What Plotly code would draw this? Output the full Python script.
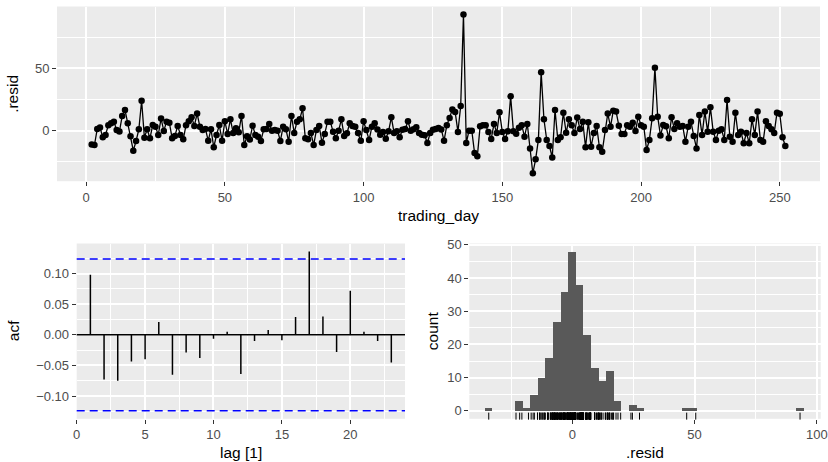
import plotly.graph_objects as go

W, H = 828, 462

# ---------------- data ----------------
trading_day = list(range(2, 253))
resid = [
    -11.0, -11.5, 1.4, 2.5, -5.3, -3.4, 4.4, 5.9, 7.2, 0.6,          # 2-11
    -0.7, 11.8, 16.6, 5.9, -4.4, -16.0, -8.3, 1.1, 24.0, -5.6,       # 12-21
    1.1, -6.1, 4.5, 3.2, -3.4, 9.7, -0.2, 7.2, 6.4, -6.1,            # 22-31
    -4.2, 3.8, -3.4, -6.9, 4.4, 7.5, 10.7, 3.8, 13.7, 3.2,           # 32-41
    0.6, 1.4, -8.0, 1.1, -13.3, -3.4, 4.5, -8.0, 7.5, -2.6,          # 42-51
    9.1, -1.8, 1.9, -1.2, 11.8, -11.5, -4.4, -7.0, 4.0, -3.4,        # 52-61
    -4.8, -8.2, 1.1, 1.3, 5.4, 0.0, 0.6, 0.0, -8.3, 3.2,             # 62-71
    1.2, -8.8, 11.8, -1.8, 7.2, 9.1, 17.9, -6.1, -6.9, -1.8,         # 72-81
    -11.5, 0.6, 3.8, -9.6, -2.6, 7.2, 7.2, -0.8, -6.1, 0.0,          # 82-91
    9.1, -4.2, -2.1, 5.9, 3.8, 3.2, -1.8, -8.1, 7.5, 0.6,            # 92-101
    -7.4, 3.2, 6.0, 1.0, -3.2, -1.0, -6.4, -0.5, 10.7, -1.8,         # 102-111
    -0.5, -5.3, 0.8, 1.3, 7.5, 0.0, 1.2, 2.7, -1.8, -3.2,            # 112-121
    -3.7, -9.9, -1.8, 0.8, 1.3, 2.2, 1.0, -8.0, 4.3, 10.2,           # 122-131
    16.9, 15.0, -1.0, 19.8, 93.15, -9.9, 0.0, 0.0, -17.9, -20.6,     # 132-141
    3.5, 4.3, 4.3, -1.0, -6.6, 5.4, -1.8, 14.7, -1.0, -6.6,          # 142-151
    -0.5, 27.5, -0.5, -2.5, 2.3, 4.4, -4.8, 5.4, -14.2, -34.15,      # 152-161
    -23.0, -7.4, 46.8, 9.1, -7.4, -12.3, -21.5, 16.6, -7.4, -5.3,    # 162-171
    14.4, -1.7, 9.1, 4.4, -1.8, 10.6, 1.3, 7.2, -13.3, 6.7,          # 172-181
    -12.8, -1.8, 3.8, -13.3, -16.8, 0.6, 13.7, 3.2, 16.0, 15.3,      # 182-191
    4.0, -2.6, -2.6, 4.4, 3.2, 6.4, -0.2, 11.2, 4.4, 3.2,            # 192-201
    -15.5, -7.4, 9.9, 50.5, 11.2, -3.8, 4.5, 3.5, -6.1, 10.7,        # 202-211
    1.4, 5.9, 3.2, 3.8, -8.8, 3.2, 7.2, -4.2, -14.2, 12.6,           # 212-221
    -3.4, 15.3, -0.8, 18.7, -0.8, -7.4, 0.0, 1.2, -7.4, 24.6,        # 222-231
    -4.8, -8.8, 14.4, -3.4, -0.8, -10.1, -1.8, -10.1, 9.1, -3.4,     # 232-241
    15.3, -7.4, -8.8, 7.6, 3.8, 1.1, -1.8, 14.4, 13.5, -5.3,         # 242-251
    -12.3,                                                           # 252
]

acf_lag = list(range(1, 24))
acf_val = [0.098, -0.073, -0.075, -0.0435, -0.040, 0.021, -0.065, -0.029,
           -0.038, -0.0065, 0.005, -0.064, -0.010, 0.008, -0.009, 0.029,
           0.136, 0.030, -0.028, 0.072, 0.005, -0.010, -0.045]
acf_ci = 0.1237

hist_start = -35.7
hist_size = 3.105
hist_bins = 42

top_xticks = [0, 50, 100, 150, 200, 250]
top_yticks = [0, 50]
acf_xticks = [0, 5, 10, 15, 20]
acf_yticks = [-0.10, -0.05, 0.00, 0.05, 0.10]
acf_ylabels = ["\u22120.10", "\u22120.05", "0.00", "0.05", "0.10"]
hist_xticks = [0, 50, 100]
hist_yticks = [0, 10, 20, 30, 40, 50]

# ---------------- layout helpers ----------------
def xdom(l, r):
    return [l / W, r / W]

def ydom(t, b):
    return [1 - b / H, 1 - t / H]

FONT = "Liberation Sans, Arial, Helvetica, sans-serif"
TICKFONT = dict(family=FONT, size=13, color="#4D4D4D")
TITLEFONT = dict(family=FONT, size=15.5, color="black")


def axis(domain, rng, tickvals, minor_vals, anchor, ticktext=None):
    d = dict(
        domain=domain, range=rng, anchor=anchor, automargin=False,
        tickmode="array", tickvals=tickvals,
        ticks="outside", ticklen=4, tickwidth=1, tickcolor="#333333",
        tickfont=TICKFONT,
        showgrid=True, gridcolor="white", gridwidth=1.6,
        zeroline=False, showline=False, fixedrange=True,
        minor=dict(tickmode="array", tickvals=minor_vals, showgrid=True,
                   gridcolor="white", gridwidth=0.8, ticks=""),
    )
    if ticktext is not None:
        d["ticktext"] = ticktext
    return d


fig = go.Figure()

# --- top: residual time series ---
fig.add_trace(go.Scatter(
    x=trading_day, y=resid, mode="lines+markers",
    line=dict(color="black", width=1.3),
    marker=dict(color="black", size=6.5),
    xaxis="x", yaxis="y", showlegend=False, hoverinfo="skip",
))

# --- ACF segments ---
seg_x, seg_y = [], []
for lag, v in zip(acf_lag, acf_val):
    seg_x += [lag, lag, None]
    seg_y += [0, v, None]
fig.add_trace(go.Scatter(
    x=seg_x, y=seg_y, mode="lines", line=dict(color="black", width=1.5),
    xaxis="x2", yaxis="y2", showlegend=False, hoverinfo="skip",
))

# --- histogram ---
fig.add_trace(go.Histogram(
    x=resid,
    xbins=dict(start=hist_start, end=hist_start + hist_bins * hist_size, size=hist_size),
    marker=dict(color="#595959", line=dict(width=0)),
    xaxis="x3", yaxis="y3", showlegend=False, hoverinfo="skip",
))
# rug
fig.add_trace(go.Scatter(
    x=resid, y=[-1.6] * len(resid), mode="markers",
    marker=dict(symbol="line-ns", size=5, color="black",
                line=dict(width=1, color="black")),
    xaxis="x3", yaxis="y3", showlegend=False, hoverinfo="skip",
    cliponaxis=False,
))

# panels (pixel boxes)
top_box = (57, 820, 6.5, 181.2)
acf_box = (76.7, 405, 243.5, 418.8)
hist_box = (469.3, 820.7, 243.5, 418.8)

top_minor_x = [25, 75, 125, 175, 225]
top_minor_y = [-25, 25, 75]
acf_minor_x = [2.5, 7.5, 12.5, 17.5, 22.5]
acf_minor_y = [-0.125, -0.075, -0.025, 0.025, 0.075, 0.125]
hist_minor_x = [-25, 25, 75]
hist_minor_y = [5, 15, 25, 35, 45]

fig.update_layout(
    width=W, height=H,
    margin=dict(l=0, r=0, t=0, b=0, autoexpand=False),
    paper_bgcolor="white", plot_bgcolor="#EBEBEB",
    bargap=0,
    font=dict(family=FONT),
    xaxis=axis(xdom(top_box[0], top_box[1]), [-10.5, 264.5], top_xticks, top_minor_x, "y"),
    yaxis=axis(ydom(top_box[2], top_box[3]), [-40.5, 99.5], top_yticks, top_minor_y, "x"),
    xaxis2=axis(xdom(acf_box[0], acf_box[1]), [0, 24], acf_xticks, acf_minor_x, "y2"),
    yaxis2=axis(ydom(acf_box[2], acf_box[3]), [-0.137, 0.149], acf_yticks, acf_minor_y, "x2",
                ticktext=acf_ylabels),
    xaxis3=axis(xdom(hist_box[0], hist_box[1]), [-42.1, 101.6], hist_xticks, hist_minor_x, "y3"),
    yaxis3=axis(ydom(hist_box[2], hist_box[3]), [-2.4, 50.4], hist_yticks, hist_minor_y, "x3"),
)

# ACF reference lines
fig.add_shape(type="line", xref="x2 domain", yref="y2", x0=0, x1=1, y0=0, y1=0,
              line=dict(color="black", width=1.5), layer="above")
for s in (1, -1):
    fig.add_shape(type="line", xref="x2 domain", yref="y2", x0=0, x1=1,
                  y0=s * acf_ci, y1=s * acf_ci,
                  line=dict(color="#0000FF", width=1.5, dash="8px,5px"), layer="above")

# histogram baseline (zero-count bins)
fig.add_shape(type="line", xref="x3", yref="y3",
              x0=hist_start, x1=hist_start + hist_bins * hist_size, y0=0, y1=0,
              line=dict(color="#595959", width=1), layer="below")

# axis titles
def title(text, x, y, angle=0):
    fig.add_annotation(text=text, x=x / W, y=1 - y / H, xref="paper", yref="paper",
                       showarrow=False, textangle=angle, font=TITLEFONT,
                       xanchor="center", yanchor="middle")

title("trading_day", (top_box[0] + top_box[1]) / 2, 215)
title(".resid", 13, (top_box[2] + top_box[3]) / 2, -90)
title("acf", 13, (acf_box[2] + acf_box[3]) / 2, -90)
title("lag [1]", (acf_box[0] + acf_box[1]) / 2, 452)
title("count", 432, (hist_box[2] + hist_box[3]) / 2, -90)
title(".resid", (hist_box[0] + hist_box[1]) / 2, 452)

PIN = ("document.documentElement.style.margin='0';"
       "document.body.style.margin='0';document.body.style.overflow='hidden';"
       "var d=document.getElementById('{plot_id}');"
       "d.style.position='fixed';d.style.left='0px';d.style.top='0px';")

fig.write_html("out.html", post_script=PIN, config={"displayModeBar": False})
